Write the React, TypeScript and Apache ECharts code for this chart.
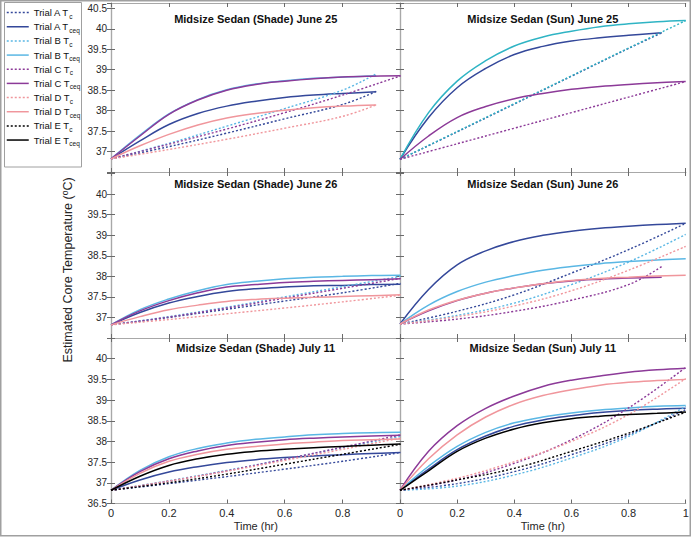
import React, { useEffect, useRef } from 'react';
import * as echarts from 'echarts';

// ---------- time grids (hr) ----------
const T_EQ = [0, 0.1, 0.2, 0.3, 0.4, 0.5, 0.6, 0.7, 0.8, 0.9, 1.0];
const T_EQ_SHORT = [0, 0.1, 0.2, 0.3, 0.4, 0.5, 0.6, 0.7, 0.8, 0.916];
const T_C = [0, 0.2, 0.4, 0.6, 0.8, 1.0];
const T_C_SHORT = [0, 0.2, 0.4, 0.6, 0.8, 0.916];

// ---------- Shade June 25 ----------
const SH_J25_A_TCEQ = [36.82, 37.26, 37.66, 37.93, 38.11, 38.23, 38.32, 38.38, 38.42, 38.46];
const SH_J25_A_TC = [36.82, 37.12, 37.45, 37.8, 38.15, 38.47];
const SH_J25_B_TCEQ = [36.82, 37.4, 37.92, 38.27, 38.51, 38.65, 38.73, 38.79, 38.82, 38.85];
const SH_J25_B_TC = [36.82, 37.2, 37.62, 38.05, 38.5, 38.9];
const SH_J25_C_TCEQ = [36.82, 37.38, 37.91, 38.26, 38.5, 38.64, 38.72, 38.78, 38.82, 38.84, 38.85];
const SH_J25_C_TC = [36.82, 37.18, 37.55, 37.95, 38.38, 38.85];
const SH_J25_D_TCEQ = [36.82, 37.14, 37.42, 37.65, 37.82, 37.93, 38.01, 38.07, 38.11, 38.14];
const SH_J25_D_TC = [36.82, 37.05, 37.3, 37.57, 37.86, 38.14];

// ---------- Sun June 25 ----------
const SU_J25_A_TCEQ = [36.81, 37.83, 38.56, 39.03, 39.37, 39.57, 39.7, 39.78, 39.84, 39.9];
const SU_J25_A_TC = [36.81, 37.48, 38.16, 38.84, 39.52, 39.9];
const SU_J25_B_TCEQ = [36.81, 37.95, 38.72, 39.22, 39.58, 39.8, 39.94, 40.05, 40.12, 40.17, 40.2];
const SU_J25_B_TC = [36.81, 37.49, 38.17, 38.85, 39.53, 40.2];
const SU_J25_C_TCEQ = [36.81, 37.38, 37.83, 38.1, 38.29, 38.42, 38.52, 38.59, 38.64, 38.68, 38.71];
const SU_J25_C_TC = [36.81, 37.19, 37.57, 37.95, 38.33, 38.71];

// ---------- Shade June 26 ----------
const SH_J26_A_TCEQ = [36.82, 37.12, 37.35, 37.51, 37.63, 37.7, 37.74, 37.77, 37.78, 37.8, 37.81];
const SH_J26_A_TC = [36.82, 37.0, 37.2, 37.4, 37.6, 37.83];
const SH_J26_B_TCEQ = [36.82, 37.19, 37.45, 37.65, 37.8, 37.88, 37.94, 37.98, 38.0, 38.02, 38.03];
const SH_J26_B_TC = [36.82, 37.02, 37.25, 37.5, 37.75, 38.0];
const SH_J26_C_TCEQ = [36.82, 37.16, 37.41, 37.6, 37.74, 37.8, 37.85, 37.88, 37.9, 37.92, 37.94];
const SH_J26_C_TC = [36.82, 37.01, 37.23, 37.47, 37.71, 37.95];
const SH_J26_D_TCEQ = [36.82, 37.02, 37.19, 37.3, 37.39, 37.44, 37.47, 37.49, 37.51, 37.53, 37.55];
const SH_J26_D_TC = [36.82, 36.95, 37.09, 37.23, 37.38, 37.54];

// ---------- Sun June 26 ----------
const SU_J26_A_TCEQ = [36.84, 37.68, 38.28, 38.62, 38.85, 39.0, 39.1, 39.17, 39.22, 39.26, 39.29];
const SU_J26_A_TC = [36.84, 37.15, 37.55, 38.08, 38.65, 39.29];
const SU_J26_B_TCEQ = [36.84, 37.3, 37.63, 37.86, 38.02, 38.15, 38.24, 38.31, 38.36, 38.4, 38.43];
const SU_J26_B_TC = [36.84, 37.05, 37.35, 37.8, 38.35, 39.02];
const SU_J26_C_TCEQ = [36.84, 37.16, 37.41, 37.59, 37.72, 37.82, 37.89, 37.93, 37.96, 37.98];
const SU_J26_C_TC = [36.84, 36.96, 37.15, 37.42, 37.8, 38.24];
const SU_J26_D_TCEQ = [36.84, 37.18, 37.42, 37.59, 37.72, 37.82, 37.9, 37.95, 37.98, 38.01, 38.03];
const SU_J26_D_TC = [36.84, 37.02, 37.28, 37.65, 38.15, 38.73];

// ---------- Shade July 11 ----------
const SH_J11_A_TCEQ = [36.82, 37.07, 37.26, 37.39, 37.49, 37.56, 37.61, 37.65, 37.68, 37.71, 37.73];
const SH_J11_A_TC = [36.82, 36.98, 37.15, 37.33, 37.52, 37.73];
const SH_J11_B_TCEQ = [36.82, 37.3, 37.63, 37.83, 37.96, 38.05, 38.11, 38.16, 38.19, 38.21, 38.22];
const SH_J11_B_TC = [36.82, 37.05, 37.3, 37.57, 37.85, 38.12];
const SH_J11_C_TCEQ = [36.82, 37.27, 37.58, 37.77, 37.9, 37.98, 38.04, 38.08, 38.11, 38.13, 38.15];
const SH_J11_C_TC = [36.82, 37.04, 37.29, 37.57, 37.86, 38.16];
const SH_J11_D_TCEQ = [36.82, 37.23, 37.52, 37.69, 37.81, 37.88, 37.94, 37.98, 38.02, 38.04, 38.06];
const SH_J11_D_TC = [36.82, 37.04, 37.28, 37.54, 37.81, 38.08];
const SH_J11_E_TCEQ = [36.82, 37.16, 37.42, 37.58, 37.69, 37.76, 37.81, 37.85, 37.88, 37.91, 37.94];
const SH_J11_E_TC = [36.82, 37.0, 37.21, 37.45, 37.69, 37.93];

// ---------- Sun July 11 ----------
const SU_J11_A_TCEQ = [36.82, 37.33, 37.8, 38.13, 38.37, 38.52, 38.62, 38.7, 38.75, 38.78, 38.8];
const SU_J11_A_TC = [36.82, 36.98, 37.27, 37.68, 38.16, 38.77];
const SU_J11_B_TCEQ = [36.82, 37.4, 37.88, 38.22, 38.45, 38.59, 38.69, 38.76, 38.81, 38.85, 38.87];
const SU_J11_B_TC = [36.82, 36.92, 37.19, 37.6, 38.12, 38.85];
const SU_J11_C_TCEQ = [36.82, 37.76, 38.38, 38.8, 39.1, 39.33, 39.48, 39.58, 39.67, 39.73, 39.77];
const SU_J11_C_TC = [36.82, 37.07, 37.47, 38.04, 38.81, 39.79];
const SU_J11_D_TCEQ = [36.82, 37.58, 38.16, 38.59, 38.9, 39.11, 39.25, 39.36, 39.43, 39.47, 39.5];
const SU_J11_D_TC = [36.82, 37.11, 37.51, 38.0, 38.65, 39.52];
const SU_J11_E_TCEQ = [36.82, 37.29, 37.76, 38.08, 38.3, 38.45, 38.55, 38.61, 38.65, 38.68, 38.71];
const SU_J11_E_TC = [36.82, 37.07, 37.35, 37.76, 38.2, 38.71];

const X_TICKS = [0, 0.2, 0.4, 0.6, 0.8, 1];
const LEGEND_NAMES = [
  'Trial A Tc', 'Trial A Tceq', 'Trial B Tc', 'Trial B Tceq', 'Trial C Tc',
  'Trial C Tceq', 'Trial D Tc', 'Trial D Tceq', 'Trial E Tc', 'Trial E Tceq',
];

const COLORS: Record<string, string> = {
  A: '#34489a',
  B: '#5ab7e4',
  C: '#8c3a98',
  D: '#f0969c',
  E: '#000000',
};

type Line = [string, 'Tc' | 'Tceq', number[], number[], string?];
type Panel = { title: string; row: number; col: number; lines: Line[] };

const PANELS: Panel[] = [
  {
    title: 'Midsize Sedan (Shade) June 25', row: 0, col: 0,
    lines: [
      ['A', 'Tc', T_C_SHORT, SH_J25_A_TC], ['A', 'Tceq', T_EQ_SHORT, SH_J25_A_TCEQ],
      ['B', 'Tc', T_C_SHORT, SH_J25_B_TC], ['B', 'Tceq', T_EQ_SHORT, SH_J25_B_TCEQ],
      ['C', 'Tc', T_C, SH_J25_C_TC], ['C', 'Tceq', T_EQ, SH_J25_C_TCEQ],
      ['D', 'Tc', T_C_SHORT, SH_J25_D_TC], ['D', 'Tceq', T_EQ_SHORT, SH_J25_D_TCEQ],
    ],
  },
  {
    title: 'Midsize Sedan (Sun) June 25', row: 0, col: 1,
    lines: [
      ['A', 'Tc', T_C_SHORT, SU_J25_A_TC], ['A', 'Tceq', T_EQ_SHORT, SU_J25_A_TCEQ],
      ['B', 'Tc', T_C, SU_J25_B_TC, '#2fb4c4'], ['B', 'Tceq', T_EQ, SU_J25_B_TCEQ, '#2fb4c4'],
      ['C', 'Tc', T_C, SU_J25_C_TC], ['C', 'Tceq', T_EQ, SU_J25_C_TCEQ],
    ],
  },
  {
    title: 'Midsize Sedan (Shade) June 26', row: 1, col: 0,
    lines: [
      ['A', 'Tc', T_C, SH_J26_A_TC], ['A', 'Tceq', T_EQ, SH_J26_A_TCEQ],
      ['B', 'Tc', T_C, SH_J26_B_TC], ['B', 'Tceq', T_EQ, SH_J26_B_TCEQ],
      ['C', 'Tc', T_C, SH_J26_C_TC], ['C', 'Tceq', T_EQ, SH_J26_C_TCEQ],
      ['D', 'Tc', T_C, SH_J26_D_TC], ['D', 'Tceq', T_EQ, SH_J26_D_TCEQ],
    ],
  },
  {
    title: 'Midsize Sedan (Sun) June 26', row: 1, col: 1,
    lines: [
      ['A', 'Tc', T_C, SU_J26_A_TC], ['A', 'Tceq', T_EQ, SU_J26_A_TCEQ],
      ['B', 'Tc', T_C, SU_J26_B_TC], ['B', 'Tceq', T_EQ, SU_J26_B_TCEQ],
      ['C', 'Tc', T_C_SHORT, SU_J26_C_TC], ['C', 'Tceq', T_EQ_SHORT, SU_J26_C_TCEQ],
      ['D', 'Tc', T_C, SU_J26_D_TC], ['D', 'Tceq', T_EQ, SU_J26_D_TCEQ],
    ],
  },
  {
    title: 'Midsize Sedan (Shade) July 11', row: 2, col: 0,
    lines: [
      ['A', 'Tc', T_C, SH_J11_A_TC], ['A', 'Tceq', T_EQ, SH_J11_A_TCEQ],
      ['B', 'Tc', T_C, SH_J11_B_TC], ['B', 'Tceq', T_EQ, SH_J11_B_TCEQ],
      ['C', 'Tc', T_C, SH_J11_C_TC], ['C', 'Tceq', T_EQ, SH_J11_C_TCEQ],
      ['D', 'Tc', T_C, SH_J11_D_TC], ['D', 'Tceq', T_EQ, SH_J11_D_TCEQ],
      ['E', 'Tc', T_C, SH_J11_E_TC], ['E', 'Tceq', T_EQ, SH_J11_E_TCEQ],
    ],
  },
  {
    title: 'Midsize Sedan (Sun) July 11', row: 2, col: 1,
    lines: [
      ['A', 'Tc', T_C, SU_J11_A_TC], ['A', 'Tceq', T_EQ, SU_J11_A_TCEQ],
      ['B', 'Tc', T_C, SU_J11_B_TC], ['B', 'Tceq', T_EQ, SU_J11_B_TCEQ],
      ['C', 'Tc', T_C, SU_J11_C_TC], ['C', 'Tceq', T_EQ, SU_J11_C_TCEQ],
      ['D', 'Tc', T_C, SU_J11_D_TC], ['D', 'Tceq', T_EQ, SU_J11_D_TCEQ],
      ['E', 'Tc', T_C, SU_J11_E_TC], ['E', 'Tceq', T_EQ, SU_J11_E_TCEQ],
    ],
  },
];

// layout
const ROW_TOP = [3, 172, 338];
const ROW_H = [169, 166, 165.5];
const ROW_MAX = [40.63, 40.54, 40.5];
const Y_LABEL_RANGE = [[37, 40.5], [37, 40], [36.5, 40]];
const COL_LEFT = [111, 400];
const COL_W = [289.5, 285.7];

const FONT = 'Liberation Sans, Arial, Helvetica, sans-serif';
const AXIS_GRAY = '#a8a8a8';
const TICK_GRAY = '#6a6a6a';

function buildOption() {
  const grid: any[] = [];
  const xAxis: any[] = [];
  const yAxis: any[] = [];
  const series: any[] = [];
  const title: any[] = [];

  PANELS.forEach((p, g) => {
    const { row, col } = p;
    grid.push({
      left: COL_LEFT[col], top: ROW_TOP[row], width: COL_W[col], height: ROW_H[row],
      containLabel: false,
    });
    const isBottom = row === 2;
    const isLeft = col === 0;
    const baseX = {
      type: 'value', gridIndex: g, min: 0, max: 1, interval: 0.2,
      axisLine: { show: true, lineStyle: { color: AXIS_GRAY, width: 1.2 } },
      axisTick: { show: true, inside: true, length: 4, lineStyle: { color: TICK_GRAY } },
      splitLine: { show: false },
    };
    xAxis.push({
      ...baseX, position: 'bottom',
      axisLabel: {
        show: isBottom, margin: 4, fontSize: 11, color: '#262626', fontFamily: FONT,
        showMaxLabel: !isLeft,
        formatter: (v: number) => (X_TICKS.some((t) => Math.abs(t - v) < 1e-6) ? String(+v.toFixed(1)) : ''),
      },
      name: isBottom ? 'Time (hr)' : '',
      nameLocation: 'middle', nameGap: 17,
      nameTextStyle: { fontSize: 11, color: '#262626', fontFamily: FONT },
    });
    xAxis.push({ ...baseX, position: 'top', axisLabel: { show: false } });
    const [lo, hi] = Y_LABEL_RANGE[row];
    const baseY = {
      type: 'value', gridIndex: g, min: 36.5, max: ROW_MAX[row], interval: 0.5,
      axisLine: { show: true, lineStyle: { color: AXIS_GRAY, width: 1.2 } },
      axisTick: { show: true, inside: true, length: 4, lineStyle: { color: TICK_GRAY } },
      splitLine: { show: false },
    };
    yAxis.push({
      ...baseY, position: 'left',
      axisLabel: {
        show: isLeft, margin: 4, fontSize: 10, color: '#262626', fontFamily: FONT,
        showMaxLabel: false,
        formatter: (v: number) => {
          const isHalf = Math.abs(v * 2 - Math.round(v * 2)) < 1e-6;
          return isHalf && v >= lo - 1e-6 && v <= hi + 1e-6 ? String(v) : '';
        },
      },
    });
    yAxis.push({ ...baseY, position: 'right', axisLabel: { show: false } });

    const topOffset = [13, 178, 342][row];
    title.push({
      text: p.title,
      left: COL_LEFT[col] + COL_W[col] / 2,
      top: topOffset,
      textAlign: 'center',
      padding: 0,
      textStyle: { fontSize: 11, fontWeight: 'bold', color: '#111', fontFamily: FONT },
    });

    p.lines.forEach(([trial, kind, times, vals, colorOverride]) => {
      const dotted = kind === 'Tc';
      series.push({
        type: 'line',
        name: `Trial ${trial} ${kind}`,
        xAxisIndex: g * 2,
        yAxisIndex: g * 2,
        data: times.map((t, i) => [t, vals[i]]),
        symbol: 'none',
        showSymbol: false,
        smooth: 0.4,
        color: colorOverride || COLORS[trial],
        lineStyle: {
          color: colorOverride || COLORS[trial],
          width: dotted ? 1.4 : 1.5,
          type: dotted ? [2, 2] : 'solid',
        },
        emphasis: { disabled: true },
        silent: true,
      });
    });
  });

  return {
    animation: false,
    backgroundColor: '#ffffff',
    textStyle: { fontFamily: FONT },
    grid, xAxis, yAxis, series, title,
    legend: {
      orient: 'vertical',
      left: 6, top: 7, padding: 0,
      itemGap: 1.56, itemWidth: 22, itemHeight: 14,
      selectedMode: false,
      data: LEGEND_NAMES,
      itemStyle: { opacity: 0, borderWidth: 0 },
      lineStyle: { width: 1.5 },
      formatter: (name: string) => {
        const m = name.match(/^(Trial [A-E] T)(c|ceq)$/);
        return m ? `{t|${m[1]}}{s|${m[2]}}` : name;
      },
      textStyle: {
        fontSize: 9.5, color: '#111', fontFamily: FONT,
        rich: {
          t: { fontSize: 9.5, lineHeight: 14, color: '#111', fontFamily: FONT },
          s: { fontSize: 6.5, lineHeight: 7, verticalAlign: 'bottom', color: '#111', fontFamily: FONT },
        },
      },
    },
    graphic: [
      {
        type: 'rect', z: -1, silent: true,
        shape: { x: 0.75, y: 0.75, width: 689.5, height: 535 },
        style: { fill: 'none', stroke: '#a0a0a0', lineWidth: 1.5 },
      },
      {
        type: 'rect', silent: true,
        shape: { x: 4.5, y: 2.5, width: 77, height: 164.5 },
        style: { fill: 'none', stroke: '#a0a0a0', lineWidth: 1 },
      },
      {
        type: 'text', silent: true,
        x: 68, y: 270, rotation: Math.PI / 2,
        style: {
          text: '{a|Estimated Core Temperature (}{b|o}{a|C)}',
          align: 'center', verticalAlign: 'middle',
          rich: {
            a: { fontSize: 12.5, fill: '#262626', fontFamily: FONT, lineHeight: 15 },
            b: { fontSize: 8.5, fill: '#262626', fontFamily: FONT, lineHeight: 9, verticalAlign: 'top' },
          },
        },
      },
    ],
  };
}

export default function App() {
  const ref = useRef<HTMLDivElement>(null);
  useEffect(() => {
    if (!ref.current) return;
    const chart = echarts.init(ref.current, null, { renderer: 'svg' });
    chart.setOption(buildOption() as any);
    return () => chart.dispose();
  }, []);
  return (
    <div
      ref={ref}
      style={{ position: 'absolute', left: 0, top: 0, width: 692, height: 538, background: '#fff' }}
    />
  );
}
